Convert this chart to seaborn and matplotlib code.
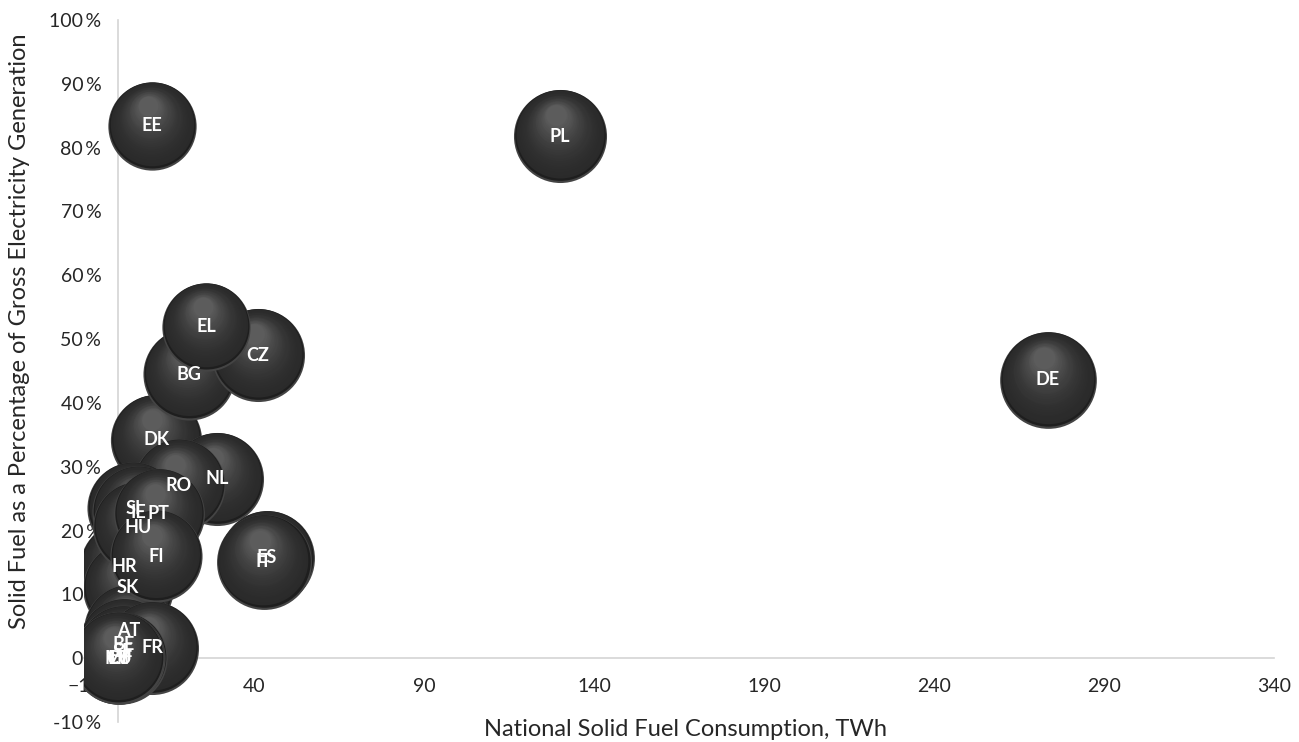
import numpy as np
import matplotlib
matplotlib.use("Agg")
import matplotlib.pyplot as plt
import matplotlib.transforms as mtrans
from matplotlib.colors import to_rgb
import seaborn as sns

# data (drawing order = back to front)
countries = ['HR', 'SK', 'AT', 'BE', 'SE', 'DK', 'NL', 'RO', 'BG', 'CZ', 'EL',
             'SI', 'IE', 'HU', 'PT', 'FI', 'FR', 'CY', 'LT', 'LU', 'LV', 'MT',
             'ES', 'IT', 'EE', 'PL', 'DE']
consumption = [2.0, 3.0, 3.2, 1.8, 1.5, 11.2, 29.1, 17.9, 20.9, 41.2, 25.9,
               4.4, 5.9, 5.9, 12.0, 11.2, 10.0, 0.0, 0.4, 0.8, 0.2, 0.0,
               43.8, 42.8, 10.0, 130.0, 273.5]
share = [14.3, 11.0, 4.4, 2.2, 1.1, 34.2, 28.1, 27.1, 44.5, 47.5, 51.9,
         23.5, 22.9, 20.5, 22.6, 16.0, 1.6, 0.0, 0.0, 0.0, 0.0, 0.0,
         15.7, 15.1, 83.4, 81.8, 43.6]
bubble = [95, 95, 95, 95, 95, 96, 100, 98, 98, 100, 90,
          98, 98, 95, 95, 98, 100, 98, 98, 98, 98, 98,
          104, 104, 90, 100, 108]

xticks = [-10, 40, 90, 140, 190, 240, 290, 340]
yticks = list(range(-10, 101, 10))

sns.set_theme(style="white")
plt.rcParams['font.family'] = ['Lato', 'DejaVu Sans']

fig = plt.figure(figsize=(12.99, 7.42), dpi=100)
ax = fig.add_axes([84 / 1299, 20 / 742, 1190 / 1299, 702 / 742])

axis_grey = '#d4d4d4'
rim = np.array(to_rgb('#444444'))
edge = np.array(to_rgb('#1e1e1e'))
base = np.array(to_rgb('#2a2a2a'))
high = np.array(to_rgb('#5c5c5c'))

n_layers = 26
z = 3.0
for c, x, y, b in zip(countries, consumption, share, bubble):
    R = 33.5 * np.sqrt(b / 100.0)  # radius in points
    # faint light crescent at the bottom
    sns.scatterplot(x=[x], y=[y], s=(2 * R) ** 2, color=rim, linewidth=0,
                    ax=ax, zorder=z, legend=False)
    z += 0.001
    for k, t in enumerate(np.linspace(0, 1, n_layers)):
        r = R * (0.975 - 0.75 * t)
        dx = -0.08 * R * t
        dy = 0.025 * R + 0.42 * R * t
        if k == 0:
            col = edge
        else:
            col = base + (high - base) * t ** 1.8
        tr = mtrans.offset_copy(ax.transData, fig=fig, x=dx, y=dy, units='points')
        sns.scatterplot(x=[x], y=[y], s=(2 * r) ** 2, color=col, linewidth=0,
                        ax=ax, zorder=z, legend=False, transform=tr)
        z += 0.001

for c, x, y in zip(countries, consumption, share):
    ax.text(x, y, c, color='white', fontsize=13, fontweight='bold',
            ha='center', va='center', zorder=50)

ax.set_xlim(-10, 340)
ax.set_ylim(-10, 100)
ax.set_xticks(xticks)
ax.set_yticks(yticks)
ax.set_yticklabels([f'{v}\u2009%' for v in yticks])

for s in ['top', 'right']:
    ax.spines[s].set_visible(False)
ax.spines['left'].set_position(('data', 0))
ax.spines['bottom'].set_position(('data', 0))
ax.spines['left'].set_color(axis_grey)
ax.spines['bottom'].set_color(axis_grey)
ax.spines['left'].set_linewidth(1.2)
ax.spines['bottom'].set_linewidth(1.2)
ax.spines['left'].set_zorder(1)
ax.spines['bottom'].set_zorder(1)
ax.tick_params(axis='both', length=0, labelsize=14, labelcolor='#262626')
ax.tick_params(axis='y', pad=12)
ax.tick_params(axis='x', pad=14)
ax.set_xlabel('')
ax.set_ylabel('')
ax.set_facecolor('white')

fig.text(685 / 1299, 1 - 730 / 742, 'National Solid Fuel Consumption, TWh',
         ha='center', va='center', fontsize=17, color='#262626')
fig.text(20 / 1299, 1 - 331 / 742,
         'Solid Fuel as a Percentage of Gross Electricity Generation',
         ha='center', va='center', rotation=90, fontsize=17, color='#262626')

fig.savefig('out.png', dpi=100, facecolor='white')
